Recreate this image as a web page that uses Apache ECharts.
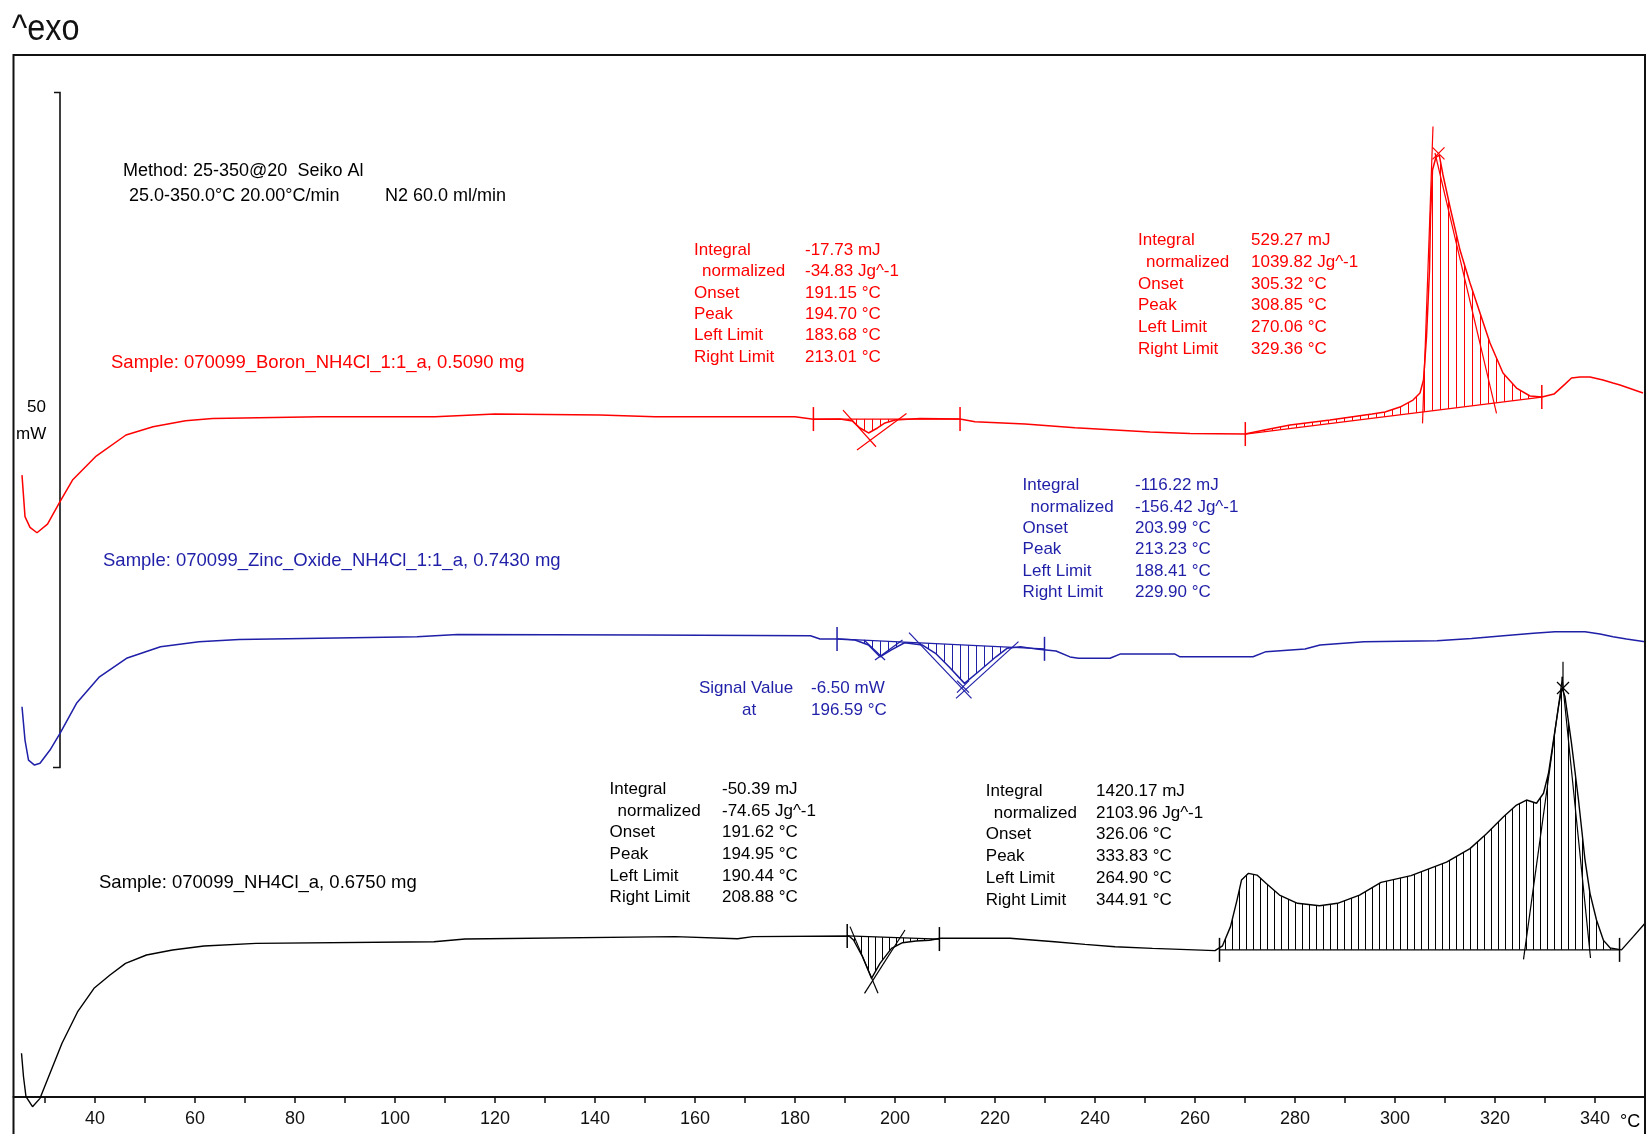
<!DOCTYPE html>
<html>
<head>
<meta charset="utf-8">
<script src="https://cdn.jsdelivr.net/npm/echarts@6/dist/echarts.min.js"></script>
<style>
  html, body { margin: 0; padding: 0; background: #ffffff; }
  #chart { width: 1648px; height: 1134px; }
</style>
</head>
<body>
<div id="chart"></div>
<script>
// DSC heat-flow traces: temperature in °C, signal in mW (traces stacked with offsets)
const boronT = [25.4, 26.0, 27.0, 28.4, 30.5, 33.0, 35.5, 40.1, 46.2, 51.6, 58.1, 63.5, 85, 108, 120, 141, 152, 180, 183.7, 189, 191.5, 193, 194.7, 196.5, 198, 200, 205, 213, 216, 226, 236, 244, 251, 259, 270, 273.9, 279, 287, 295.4, 298, 301, 303.6, 305, 305.7, 306.3, 306.9, 307.1, 307.5, 308.2, 308.85, 309.6, 311, 313, 315, 317, 319, 321.6, 324.3, 327, 329.4, 331.8, 334, 335.3, 337, 339, 341.6, 343.6, 345, 349.6];
const boronSignal = [46.07, 42.99, 42.2, 41.80, 42.44, 44.10, 45.70, 47.43, 49.04, 49.65, 50.10, 50.27, 50.39, 50.39, 50.59, 50.52, 50.39, 50.39, 50.20, 50.22, 50.07, 49.56, 49.19, 49.56, 49.93, 50.15, 50.26, 50.22, 50.02, 49.85, 49.58, 49.41, 49.26, 49.16, 49.11, 49.41, 49.78, 50.15, 50.59, 50.74, 51.11, 51.63, 52.15, 53.11, 56.30, 61.26, 65.19, 68.67, 69.63, 69.78, 68.30, 65.93, 62.74, 60.30, 58.07, 55.85, 53.63, 52.52, 51.93, 51.85, 52.07, 52.81, 53.26, 53.33, 53.33, 53.11, 52.89, 52.74, 52.15];

const zincT = [25.4, 26.0, 26.7, 27.9, 29.0, 31.0, 33.0, 36.3, 40.9, 46.3, 53.1, 60.8, 68.8, 104.4, 112.5, 150, 183.1, 185, 188.5, 192.0, 194.7, 197.0, 199.2, 201.9, 205.5, 208.1, 210.8, 213.9, 217.1, 220.2, 222.4, 225.1, 228.7, 232.2, 235, 236.7, 243.0, 245.0, 256.0, 257.0, 271.6, 274.2, 282.0, 285.0, 293.8, 308.4, 315.3, 321.7, 327.7, 332, 338.0, 341.0, 343.6, 346.3, 350.0];
const zincSignal = [28.91, 26.44, 24.96, 24.59, 24.72, 25.70, 26.94, 29.16, 31.13, 32.50, 33.36, 33.73, 33.90, 34.10, 34.27, 34.22, 34.17, 33.93, 33.93, 33.85, 33.48, 32.61, 33.11, 33.65, 33.48, 32.87, 31.87, 30.64, 31.63, 32.61, 33.24, 33.36, 33.16, 33.04, 32.60, 32.50, 32.50, 32.81, 32.81, 32.61, 32.61, 32.99, 33.19, 33.48, 33.73, 33.80, 33.97, 34.17, 34.35, 34.47, 34.47, 34.30, 34.10, 33.93, 33.73];

const nh4clT = [25.3, 25.7, 26.2, 27.5, 29.0, 31.0, 33.4, 36.5, 39.8, 43.0, 46.1, 50.3, 55.5, 61.8, 72.2, 107.8, 114.0, 156.0, 168.5, 171.6, 190.8, 191.7, 193.5, 195.3, 197.0, 199.3, 201.5, 204.2, 206.9, 209.1, 223.0, 231.9, 238.0, 244.0, 251.5, 264.0, 265.5, 267.1, 268.4, 269.3, 270.7, 272.4, 274.2, 276.9, 280.5, 284.9, 288.5, 292.9, 297.2, 303.2, 310.3, 315.0, 318.3, 321.7, 324.3, 326.3, 328.3, 329.7, 330.7, 331.7, 332.7, 333.4, 334.0, 335.3, 336.7, 338.0, 339.0, 340.3, 341.7, 343.0, 345.3, 347.7, 350.0];
const nh4clSignal = [3.24, 1.50, 0.02, -0.72, -0.10, 1.76, 3.98, 6.30, 8.05, 9.04, 9.90, 10.52, 10.89, 11.19, 11.38, 11.50, 11.70, 11.88, 11.72, 11.88, 11.93, 11.63, 10.39, 8.79, 9.90, 11.01, 11.43, 11.56, 11.61, 11.76, 11.76, 11.50, 11.31, 11.13, 11.01, 10.84, 11.20, 12.62, 14.59, 16.07, 16.57, 16.44, 15.83, 14.96, 14.35, 14.17, 14.35, 14.96, 15.90, 16.40, 17.40, 18.40, 19.50, 20.76, 21.63, 22.00, 21.76, 22.50, 23.98, 26.44, 28.91, 30.30, 29.65, 26.20, 22.00, 17.56, 15.09, 13.11, 11.60, 11.05, 10.90, 11.90, 12.87];

// Axis ticks (°C)
const tickValues = [30, 40, 50, 60, 70, 80, 90, 100, 110, 120, 130, 140, 150, 160, 170, 180, 190, 200, 210, 220, 230, 240, 250, 260, 270, 280, 290, 300, 310, 320, 330, 340];
const tickLabels = [40, 60, 80, 100, 120, 140, 160, 180, 200, 220, 240, 260, 280, 300, 320, 340];

// Integration windows (limits and baseline end points)
const intTrace  = ['boron', 'boron', 'zinc', 'nh4cl', 'nh4cl'];
const intLeftT  = [183.68, 270.06, 188.41, 190.44, 264.90];
const intRightT = [213.01, 329.36, 229.90, 208.88, 344.91];
const intLeftV  = [50.22, 49.11, 33.93, 11.93, 10.90];
const intRightV = [50.22, 51.85, 33.20, 11.70, 10.90];

// Tangent construction lines [T1, v1, T2, v2]
const tangentTrace = ['boron', 'boron', 'boron', 'boron', 'zinc', 'zinc', 'zinc', 'zinc', 'nh4cl', 'nh4cl', 'nh4cl', 'nh4cl', 'nh4cl'];
const tangentSegs = [
  [189.6, 50.89, 196.2, 48.17], [192.4, 47.93, 202.3, 50.64],
  [305.5, 49.9, 307.6, 71.9], [308.0, 69.93, 320.3, 50.64],
  [193.8, 33.85, 198.0, 32.37], [196.0, 32.37, 201.5, 33.85],
  [202.8, 34.4, 215.3, 29.53], [224.7, 33.73, 212.2, 29.53],
  [191.0, 12.62, 196.6, 7.68], [202.0, 12.37, 193.9, 7.68],
  [325.7, 10.2, 333.5, 31.13], [333.4, 31.13, 339.1, 10.3], [333.6, 30.4, 333.6, 32.24]
];

// Peak markers
const peakTrace = ['boron', 'zinc', 'nh4cl'];
const peakMarkT = [308.7, 213.6, 333.6];
const peakMarkV = [69.9, 30.4, 30.3];

// 50 mW scale bar [T, top, bottom]
const scaleBar = [33.0, 74.41, 24.41];

// Result tables
const tableLabels = ['Integral', ' normalized', 'Onset', 'Peak', 'Left Limit', 'Right Limit'];
const boronPeak1Values = ['-17.73 mJ', '-34.83 Jg^-1', '191.15 °C', '194.70 °C', '183.68 °C', '213.01 °C'];
const boronPeak2Values = ['529.27 mJ', '1039.82 Jg^-1', '305.32 °C', '308.85 °C', '270.06 °C', '329.36 °C'];
const zincPeakValues = ['-116.22 mJ', '-156.42 Jg^-1', '203.99 °C', '213.23 °C', '188.41 °C', '229.90 °C'];
const nh4clPeak1Values = ['-50.39 mJ', '-74.65 Jg^-1', '191.62 °C', '194.95 °C', '190.44 °C', '208.88 °C'];
const nh4clPeak2Values = ['1420.17 mJ', '2103.96 Jg^-1', '326.06 °C', '333.83 °C', '264.90 °C', '344.91 °C'];

const RED = '#ff0000';
const BLUE = '#1f1fa8';
const BLACK = '#000000';
const FONT = 'Liberation Sans, Arial, sans-serif';

function hatch(color, step) {
  const c = document.createElement('canvas');
  c.width = step; c.height = 4;
  const ctx = c.getContext('2d');
  ctx.strokeStyle = color;
  ctx.lineWidth = 1;
  ctx.beginPath();
  ctx.moveTo(0.5, 0); ctx.lineTo(0.5, 4);
  ctx.stroke();
  return { image: c, repeat: 'repeat' };
}

const traces = {
  boron: { t: boronT, v: boronSignal, color: RED, hatch: hatch(RED, 8) },
  zinc:  { t: zincT,  v: zincSignal,  color: BLUE, hatch: hatch(BLUE, 8) },
  nh4cl: { t: nh4clT, v: nh4clSignal, color: BLACK, hatch: hatch(BLACK, 7) }
};

function pairs(t, v) { return t.map((x, i) => [x, v[i]]); }

function txt(x, y, text, color, size, extra) {
  return Object.assign({
    type: 'text', x: x, y: y, z: 100,
    style: { text: text, fill: color, font: size + 'px ' + FONT, align: 'left', verticalAlign: 'middle' }
  }, extra || {});
}

function table(xl, xv, y0, step, values, color) {
  const out = [];
  tableLabels.forEach((lab, i) => {
    const indent = i === 1 ? 8 : 0;
    out.push(txt(xl + indent, y0 + i * step, lab.trim(), color, 17));
    out.push(txt(xv, y0 + i * step, values[i], color, 17));
  });
  return out;
}

const graphics = [
  { type: 'rect', shape: { x: 13.5, y: 55, width: 1631.5, height: 1100 }, style: { fill: null, stroke: '#111', lineWidth: 2 }, z: 50 },
  txt(12, 30, '^exo', '#111', 36, { scaleX: 0.9 }),
  txt(27, 407, '50', BLACK, 17),
  txt(16, 434, 'mW', BLACK, 17),
  txt(123, 171, 'Method: 25-350@20  Seiko Al', BLACK, 18),
  txt(129, 196.5, '25.0-350.0°C 20.00°C/min', BLACK, 18),
  txt(385, 196.5, 'N2 60.0 ml/min', BLACK, 18),
  txt(111, 362.6, 'Sample: 070099_Boron_NH4Cl_1:1_a, 0.5090 mg', RED, 18.5),
  txt(103, 561, 'Sample: 070099_Zinc_Oxide_NH4Cl_1:1_a, 0.7430 mg', BLUE, 18.5),
  txt(99, 883, 'Sample: 070099_NH4Cl_a, 0.6750 mg', BLACK, 18.5),
  txt(699, 688.4, 'Signal Value', BLUE, 17),
  txt(811, 688.4, '-6.50 mW', BLUE, 17),
  txt(742, 710.5, 'at', BLUE, 17),
  txt(811, 710.5, '196.59 °C', BLUE, 17),
  txt(1620, 1122, '°C', BLACK, 18)
].concat(
  table(694, 805, 250, 21.45, boronPeak1Values, RED),
  table(1138, 1251, 240.7, 21.65, boronPeak2Values, RED),
  table(1022.6, 1135, 485.6, 21.4, zincPeakValues, BLUE),
  table(609.6, 722, 789.3, 21.7, nh4clPeak1Values, BLACK),
  table(985.8, 1096, 791.4, 21.7, nh4clPeak2Values, BLACK)
);

const chart = echarts.init(document.getElementById('chart'), null, { renderer: 'canvas' });

chart.setOption({
  animation: false,
  backgroundColor: '#ffffff',
  grid: { left: 13.5, right: 3, top: 55, bottom: 37, containLabel: false },
  xAxis: {
    type: 'value', min: 23.7, max: 350,
    axisLine: { show: true, onZero: false, lineStyle: { color: '#111', width: 2 } },
    axisTick: { show: true, customValues: tickValues, length: 6, inside: false, lineStyle: { color: '#111', width: 1.5 } },
    axisLabel: { show: true, customValues: tickLabels, margin: 13, color: '#111', fontSize: 18, fontFamily: FONT },
    splitLine: { show: false }
  },
  yAxis: {
    type: 'value', min: 0, max: 77.19, show: false,
    splitLine: { show: false }
  },
  graphic: graphics,
  series: [
    {
      type: 'custom', name: 'integrations', coordinateSystem: 'cartesian2d', z: 2,
      data: intLeftT.map((l, i) => [l, intLeftV[i], intRightT[i], intRightV[i]]),
      encode: { x: [0, 2], y: [1, 3] },
      renderItem: function (params, api) {
        const i = params.dataIndex;
        const tr = traces[intTrace[i]];
        const l = intLeftT[i], r = intRightT[i];
        const pts = [api.coord([l, intLeftV[i]])];
        tr.t.forEach((t, k) => { if (t > l && t < r) pts.push(api.coord([t, tr.v[k]])); });
        pts.push(api.coord([r, intRightV[i]]));
        const a = pts[0], b = pts[pts.length - 1];
        return {
          type: 'group',
          children: [
            { type: 'polygon', shape: { points: pts }, style: { fill: tr.hatch, stroke: null } },
            { type: 'line', shape: { x1: a[0], y1: a[1], x2: b[0], y2: b[1] }, style: { stroke: tr.color, lineWidth: 1.3 } },
            { type: 'line', shape: { x1: a[0], y1: a[1] - 12, x2: a[0], y2: a[1] + 12 }, style: { stroke: tr.color, lineWidth: 1.5 } },
            { type: 'line', shape: { x1: b[0], y1: b[1] - 12, x2: b[0], y2: b[1] + 12 }, style: { stroke: tr.color, lineWidth: 1.5 } }
          ]
        };
      }
    },
    {
      type: 'custom', name: 'tangents', coordinateSystem: 'cartesian2d', z: 3,
      data: tangentSegs,
      encode: { x: [0, 2], y: [1, 3] },
      renderItem: function (params, api) {
        const s = tangentSegs[params.dataIndex];
        const p1 = api.coord([s[0], s[1]]);
        const p2 = api.coord([s[2], s[3]]);
        return { type: 'line', shape: { x1: p1[0], y1: p1[1], x2: p2[0], y2: p2[1] },
                 style: { stroke: traces[tangentTrace[params.dataIndex]].color, lineWidth: 1.2 } };
      }
    },
    {
      type: 'custom', name: 'peaks', coordinateSystem: 'cartesian2d', z: 3,
      data: peakMarkT.map((t, i) => [t, peakMarkV[i]]),
      renderItem: function (params, api) {
        const p = api.coord([api.value(0), api.value(1)]);
        const c = traces[peakTrace[params.dataIndex]].color;
        const d = 6;
        return { type: 'group', children: [
          { type: 'line', shape: { x1: p[0] - d, y1: p[1] - d, x2: p[0] + d, y2: p[1] + d }, style: { stroke: c, lineWidth: 1.3 } },
          { type: 'line', shape: { x1: p[0] - d, y1: p[1] + d, x2: p[0] + d, y2: p[1] - d }, style: { stroke: c, lineWidth: 1.3 } }
        ] };
      }
    },
    {
      type: 'custom', name: 'scale', coordinateSystem: 'cartesian2d', z: 3,
      data: [scaleBar],
      encode: { x: 0, y: [1, 2] },
      renderItem: function (params, api) {
        const top = api.coord([scaleBar[0], scaleBar[1]]);
        const bot = api.coord([scaleBar[0], scaleBar[2]]);
        return { type: 'polyline', shape: { points: [[top[0] - 6, top[1]], top, bot, [bot[0] - 7, bot[1]]] },
                 style: { stroke: '#111', lineWidth: 1.6, fill: null } };
      }
    },
    {
      type: 'line', name: 'Boron', data: pairs(boronT, boronSignal), showSymbol: false, clip: false, z: 4,
      lineStyle: { color: RED, width: 1.5 }
    },
    {
      type: 'line', name: 'Zinc Oxide', data: pairs(zincT, zincSignal), showSymbol: false, clip: false, z: 4,
      lineStyle: { color: BLUE, width: 1.5 }
    },
    {
      type: 'line', name: 'NH4Cl', data: pairs(nh4clT, nh4clSignal), showSymbol: false, clip: false, z: 4,
      lineStyle: { color: BLACK, width: 1.4 }
    }
  ]
});
</script>
</body>
</html>
